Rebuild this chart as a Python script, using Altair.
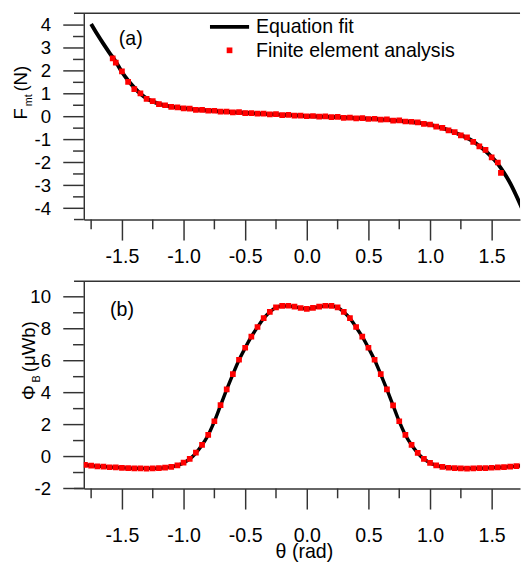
import altair as alt
import pandas as pd

FONT = "Liberation Sans"
AX = "#333333"

# ---------------- data: panel (a) ----------------
theta_fit_a = [-1.75, -1.70, -1.65, -1.60, -1.55, -1.50, -1.45, -1.40, -1.35, -1.30,
               -1.25, -1.20, -1.15, -1.10, -1.05, -1.00, -0.95, -0.90, -0.85, -0.80,
               -0.75, -0.70, -0.65, -0.60, -0.55, -0.50, -0.45, -0.40, -0.35, -0.30,
               -0.25, -0.20, -0.15, -0.10, -0.05, 0.00, 0.05, 0.10, 0.15, 0.20,
               0.25, 0.30, 0.35, 0.40, 0.45, 0.50, 0.55, 0.60, 0.65, 0.70,
               0.75, 0.80, 0.85, 0.90, 0.95, 1.00, 1.05, 1.10, 1.15, 1.20,
               1.25, 1.30, 1.35, 1.40, 1.45, 1.50, 1.55, 1.60, 1.65, 1.70, 1.75]
F_fit = [4.05, 3.60, 3.18, 2.78, 2.40, 1.95, 1.58, 1.27, 1.00, 0.80,
         0.66, 0.56, 0.49, 0.44, 0.40, 0.37, 0.34, 0.31, 0.29, 0.27,
         0.25, 0.23, 0.21, 0.20, 0.18, 0.17, 0.15, 0.14, 0.12, 0.11,
         0.10, 0.08, 0.07, 0.06, 0.04, 0.03, 0.02, 0.01, 0.00, -0.01,
         -0.02, -0.04, -0.05, -0.06, -0.07, -0.09, -0.10, -0.12, -0.14, -0.16,
         -0.18, -0.20, -0.23, -0.26, -0.30, -0.35, -0.42, -0.50, -0.59, -0.69,
         -0.80, -0.93, -1.08, -1.28, -1.50, -1.76, -2.06, -2.45, -2.90, -3.45, -4.05]

theta_fea_a = [-1.575, -1.55, -1.50, -1.45, -1.40, -1.35, -1.30, -1.25, -1.20, -1.15,
               -1.10, -1.05, -1.00, -0.95, -0.90, -0.85, -0.80, -0.75, -0.70, -0.65,
               -0.60, -0.55, -0.50, -0.45, -0.40, -0.35, -0.30, -0.25, -0.20, -0.15,
               -0.10, -0.05, 0.00, 0.05, 0.10, 0.15, 0.20, 0.25, 0.30, 0.35,
               0.40, 0.45, 0.50, 0.55, 0.60, 0.65, 0.70, 0.75, 0.80, 0.85,
               0.90, 0.95, 1.00, 1.05, 1.10, 1.15, 1.20, 1.25, 1.30, 1.35,
               1.40, 1.45, 1.50, 1.55, 1.575]
F_fea = [2.55, 2.36, 1.98, 1.52, 1.20, 1.02, 0.78, 0.68, 0.55, 0.50,
         0.43, 0.41, 0.36, 0.35, 0.30, 0.30, 0.26, 0.26, 0.22, 0.22,
         0.19, 0.20, 0.16, 0.16, 0.13, 0.13, 0.10, 0.11, 0.07, 0.08,
         0.05, 0.05, 0.02, 0.03, 0.00, 0.01, -0.02, -0.01, -0.05, -0.04,
         -0.07, -0.06, -0.10, -0.09, -0.13, -0.12, -0.17, -0.16, -0.21, -0.22,
         -0.25, -0.31, -0.34, -0.43, -0.49, -0.60, -0.67, -0.82, -0.90, -1.10,
         -1.30, -1.45, -1.78, -2.00, -2.45]

# ---------------- data: panel (b) ----------------
theta_b = [-1.80, -1.75, -1.70, -1.65, -1.60, -1.55, -1.50, -1.45, -1.40, -1.35,
           -1.30, -1.25, -1.20, -1.15, -1.10, -1.05, -1.00, -0.95, -0.90, -0.85,
           -0.80, -0.75, -0.70, -0.65, -0.60, -0.55, -0.50, -0.45, -0.40, -0.35,
           -0.30, -0.25, -0.20, -0.15, -0.10, -0.05, 0.00, 0.05, 0.10, 0.15,
           0.20, 0.25, 0.30, 0.35, 0.40, 0.45, 0.50, 0.55, 0.60, 0.65,
           0.70, 0.75, 0.80, 0.85, 0.90, 0.95, 1.00, 1.05, 1.10, 1.15,
           1.20, 1.25, 1.30, 1.35, 1.40, 1.45, 1.50, 1.55, 1.60, 1.65, 1.70, 1.75]
phi_fit = [-0.53, -0.57, -0.60, -0.63, -0.66, -0.68, -0.70, -0.72, -0.73, -0.74,
           -0.74, -0.74, -0.73, -0.70, -0.65, -0.55, -0.40, -0.15, 0.22, 0.72,
           1.35, 2.20, 3.20, 4.20, 5.15, 6.05, 6.80, 7.50, 8.10, 8.65,
           9.05, 9.33, 9.42, 9.43, 9.38, 9.30, 9.25, 9.30, 9.38, 9.43,
           9.42, 9.33, 9.05, 8.65, 8.10, 7.50, 6.80, 6.05, 5.15, 4.20,
           3.20, 2.20, 1.35, 0.72, 0.22, -0.15, -0.40, -0.55, -0.65, -0.70,
           -0.73, -0.74, -0.74, -0.74, -0.73, -0.72, -0.70, -0.68, -0.66, -0.63, -0.60, -0.57]
phi_fea = [-0.52, -0.57, -0.61, -0.63, -0.67, -0.68, -0.71, -0.72, -0.74, -0.74,
           -0.75, -0.74, -0.73, -0.69, -0.64, -0.55, -0.38, -0.14, 0.24, 0.73,
           1.36, 2.21, 3.22, 4.21, 5.16, 6.06, 6.81, 7.51, 8.11, 8.66,
           9.06, 9.34, 9.43, 9.44, 9.38, 9.30, 9.24, 9.31, 9.39, 9.44,
           9.43, 9.34, 9.06, 8.66, 8.11, 7.51, 6.81, 6.06, 5.16, 4.21,
           3.21, 2.21, 1.36, 0.73, 0.23, -0.14, -0.39, -0.55, -0.65, -0.70,
           -0.73, -0.74, -0.75, -0.74, -0.73, -0.72, -0.70, -0.68, -0.66, -0.63, -0.60, -0.56]

x_major = [-1.5, -1.0, -0.5, 0.0, 0.5, 1.0, 1.5]
x_minor = [-1.75, -1.25, -0.75, -0.25, 0.25, 0.75, 1.25]
ya_major = [-4, -3, -2, -1, 0, 1, 2, 3, 4]
ya_minor = [-3.5, -2.5, -1.5, -0.5, 0.5, 1.5, 2.5, 3.5]
yb_major = [-2, 0, 2, 4, 6, 8, 10]
yb_minor = [-1, 1, 3, 5, 7, 9]
legend_labels = ["Equation fit", "Finite element analysis"]

# ---------------- layout constants ----------------
X_DOM = [-1.8095, 1.730]
W = 446
HA, HB = 211, 212
YA_DOM = [-4.49, 4.52]
YB_DOM = [-2.0, 10.98]

xs = alt.Scale(domain=X_DOM, nice=False, zero=False)
ysa = alt.Scale(domain=YA_DOM, nice=False, zero=False)
ysb = alt.Scale(domain=YB_DOM, nice=False, zero=False)

X_COMMON = dict(domainColor=AX, domainWidth=1.5, tickColor=AX, tickWidth=1.5, grid=False,
                labelFont=FONT, labelColor="black", tickSize=21)
Y_COMMON = dict(domainColor=AX, domainWidth=1.5, ticks=False, grid=False,
                labelFont=FONT, labelColor="black", labelFontSize=19, labelPadding=34,
                labelAlign="right", labelBaseline="middle")
X_EXPR = "(datum.value < 0 ? '-' : '') + format(abs(datum.value), '.1f')"
Y_EXPR = "(datum.value < 0 ? '-' : '') + format(abs(datum.value), 'd')"

xa_axis = alt.Axis(values=x_major, format=".1f", labelFontSize=20, labelPadding=7,
                   labelExpr=X_EXPR, **X_COMMON)
xb_axis = alt.Axis(values=x_major, format=".1f", labelFontSize=20, labelPadding=17,
                   labelExpr=X_EXPR,
                   titleFont=FONT, titleFontSize=20, titleFontWeight="normal", titleColor="black",
                   titleX=225, titleY=71, titleAlign="center", titleBaseline="alphabetic",
                   **X_COMMON)
ya_axis = alt.Axis(values=ya_major, format="d", labelExpr=Y_EXPR, **Y_COMMON)
yb_axis = alt.Axis(values=yb_major, format="d", labelExpr=Y_EXPR, **Y_COMMON)


def text_layer(txt, x, y, size, angle=0, align="left"):
    kw = dict(font=FONT, fontSize=size, color="black", align=align, baseline="middle")
    if angle:
        kw["angle"] = angle
    return alt.Chart(pd.DataFrame({"t": [txt]})).mark_text(**kw).encode(
        text="t:N", x=alt.value(x), y=alt.value(y))


def hline(x1, x2, y):
    return alt.Chart(pd.DataFrame({"k": [0]})).mark_rule(color=AX, strokeWidth=1.5).encode(
        x=alt.value(x1), x2=alt.value(x2), y=alt.value(y))


def y_ticks(field, vals, enc, length):
    return alt.Chart(pd.DataFrame({field: vals})).mark_rule(color=AX, strokeWidth=1.5).encode(
        y=alt.Y(field + ":Q", **enc), x=alt.value(0), x2=alt.value(-length))


# ---------------- panel (a) ----------------
dfa_fit = pd.DataFrame({"theta": theta_fit_a, "F": F_fit})
dfa_fea = pd.DataFrame({"theta": theta_fea_a, "F": F_fea})
XA = dict(scale=xs, axis=xa_axis, title=None)
YA = dict(scale=ysa, axis=ya_axis, title=None)

a_fit = alt.Chart(dfa_fit).mark_line(color="black", strokeWidth=4, clip=True, interpolate="monotone").encode(
    x=alt.X("theta:Q", **XA), y=alt.Y("F:Q", **YA))
a_fea = alt.Chart(dfa_fea).mark_square(color="#ff0000", size=34, opacity=1, clip=True).encode(
    x=alt.X("theta:Q", **XA), y=alt.Y("F:Q", **YA))
a_minor_x = alt.Chart(pd.DataFrame({"theta": x_minor})).mark_rule(color=AX, strokeWidth=1.5).encode(
    x=alt.X("theta:Q", **XA), y=alt.value(HA), y2=alt.value(HA + 10))
leg_line = alt.Chart(pd.DataFrame({"k": [0]})).mark_rule(color="black", strokeWidth=4).encode(
    x=alt.value(129), x2=alt.value(169), y=alt.value(14))
leg_sq = alt.Chart(pd.DataFrame({"k": [0]})).mark_square(color="#ff0000", size=34, opacity=1).encode(
    x=alt.value(149), y=alt.value(38))

panel_a = alt.layer(
    a_fit, a_fea, a_minor_x, y_ticks("F", ya_major, YA, 21), y_ticks("F", ya_minor, YA, 11),
    hline(-10, W, 0), hline(-10, 0, HA),
    leg_line, leg_sq,
    text_layer(legend_labels[0], 176, 14, 20),
    text_layer(legend_labels[1], 176, 39, 20),
    text_layer("(a)", 48, 27, 20, align="center"),
    text_layer("F", -64, 103, 19, angle=270, align="center"),
    text_layer("mt", -56, 89, 11, angle=270, align="center"),
    text_layer("(N)", -64, 67, 19, angle=270, align="center"),
).properties(width=W, height=HA)

# ---------------- panel (b) ----------------
dfb_fit = pd.DataFrame({"theta": theta_b, "phi": phi_fit})
dfb_fea = pd.DataFrame({"theta": theta_b, "phi": phi_fea})
XB = dict(scale=xs, axis=xb_axis, title="θ (rad)")
YB = dict(scale=ysb, axis=yb_axis, title=None)

b_fit = alt.Chart(dfb_fit).mark_line(color="black", strokeWidth=3.5, clip=True, interpolate="monotone").encode(
    x=alt.X("theta:Q", **XB), y=alt.Y("phi:Q", **YB))
b_fea = alt.Chart(dfb_fea).mark_square(color="#ff0000", size=34, opacity=1, clip=True).encode(
    x=alt.X("theta:Q", **XB), y=alt.Y("phi:Q", **YB))
b_minor_x = alt.Chart(pd.DataFrame({"theta": x_minor})).mark_rule(color=AX, strokeWidth=1.5).encode(
    x=alt.X("theta:Q", **XB), y=alt.value(HB), y2=alt.value(HB + 10))

panel_b = alt.layer(
    b_fit, b_fea, b_minor_x, y_ticks("phi", yb_major, YB, 21), y_ticks("phi", yb_minor, YB, 11),
    hline(-10, W, 0), hline(-10, 0, HB),
    text_layer("(b)", 39, 30, 20, align="center"),
    text_layer("Φ", -56, 114, 19, angle=270, align="center"),
    text_layer("B", -48, 100, 11, angle=270, align="center"),
    text_layer("(μWb)", -56, 67, 19, angle=270, align="center"),
).properties(width=W, height=HB)

chart = alt.vconcat(panel_a, panel_b, spacing=14).properties(
    padding={"left": 4.5, "top": -2, "right": 0, "bottom": 0}
).configure_view(strokeWidth=0)

chart.save("out.html", embed_options={"renderer": "svg", "actions": False})
